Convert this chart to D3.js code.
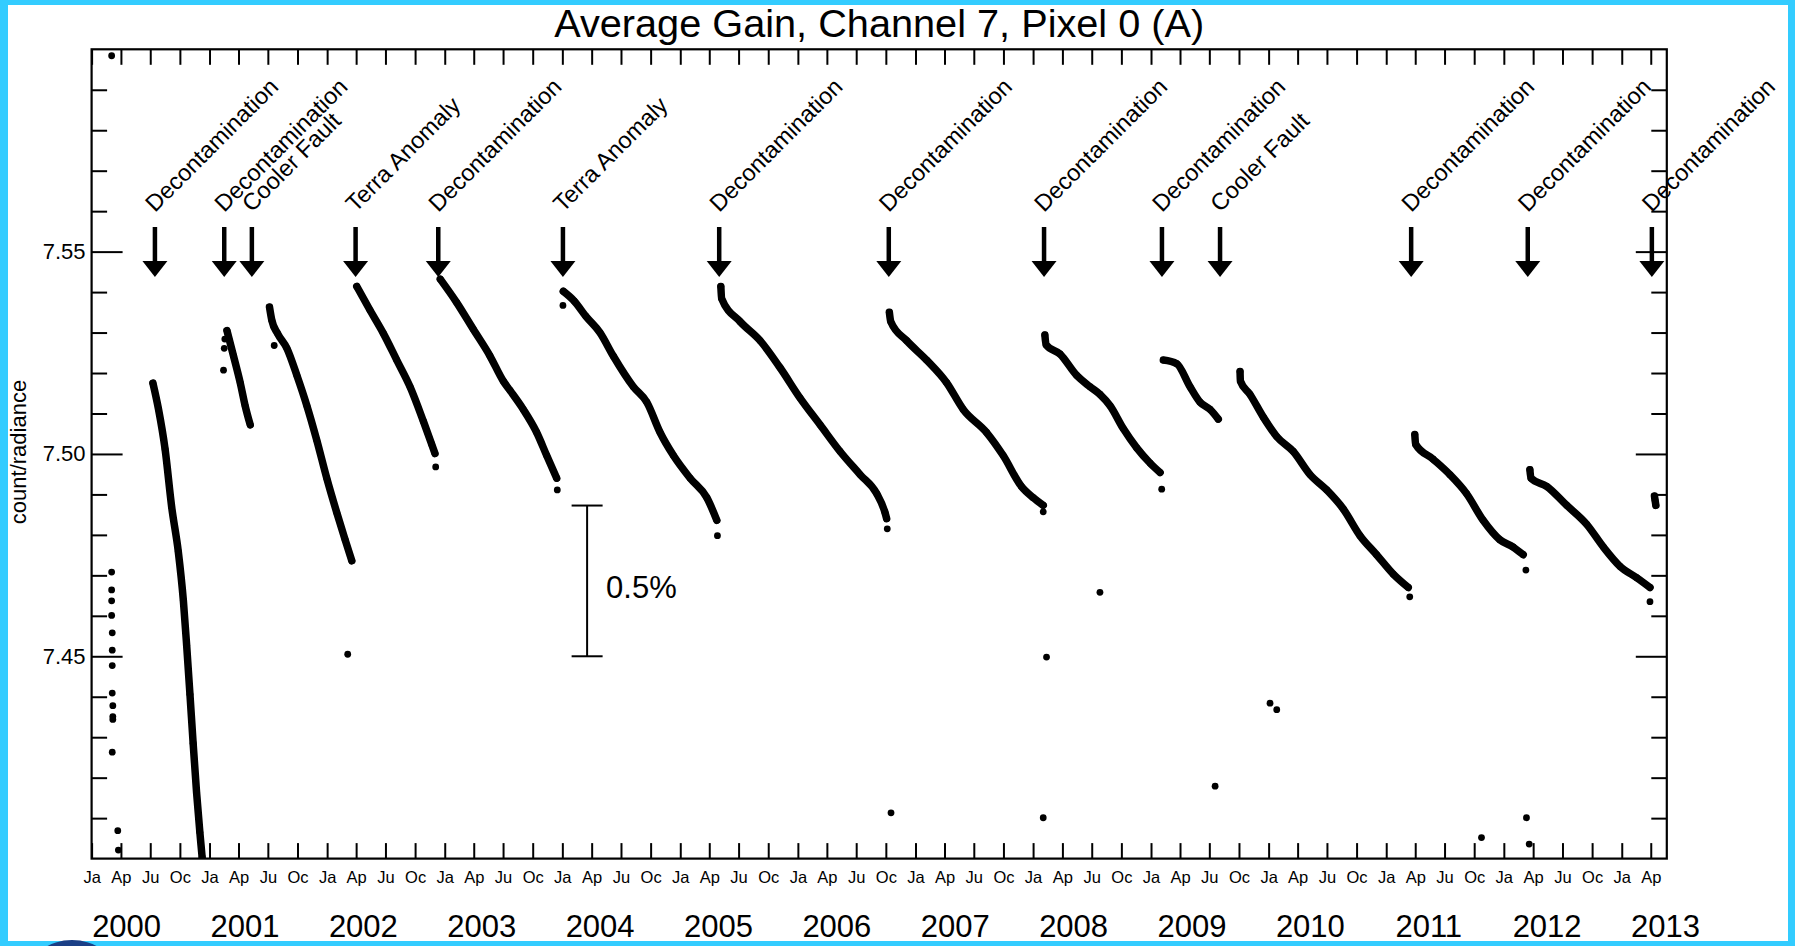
<!DOCTYPE html>
<html>
<head>
<meta charset="utf-8">
<script src="https://cdn.jsdelivr.net/npm/d3@7"></script>
<style>
  html, body { margin: 0; padding: 0; background: #33ccff; }
  svg { display: block; }
  text { font-family: "Liberation Sans", Arial, Helvetica, sans-serif; fill: #000; }
</style>
</head>
<body>
<script>
// values: [decimal year, count/radiance]
const launchPoints = [
  [2000.17, 7.5984],
  [2000.17, 7.4708], [2000.17, 7.4664], [2000.17, 7.4637], [2000.17, 7.4601],
  [2000.175, 7.4558], [2000.175, 7.4515], [2000.175, 7.4477], [2000.175, 7.4409],
  [2000.18, 7.4378], [2000.18, 7.4351], [2000.18, 7.4344], [2000.175, 7.4263],
  [2000.222, 7.4069], [2000.227, 7.4021]
];
const gain2000 = [
  [2000.520, 7.5175], [2000.567, 7.5111], [2000.623, 7.5012], [2000.679, 7.4869],
  [2000.735, 7.4759], [2000.778, 7.4638], [2000.806, 7.4527], [2000.834, 7.4406],
  [2000.861, 7.4285], [2000.890, 7.4164], [2000.918, 7.4065], [2000.937, 7.4004],
  [2000.950, 7.3960]
];
const gain2001a = [
  [2001.148, 7.5305], [2001.204, 7.5242], [2001.261, 7.5176], [2001.303, 7.5119],
  [2001.346, 7.5072]
];
const gain2001b = [
  [2001.510, 7.5363], [2001.530, 7.5330], [2001.578, 7.5298], [2001.658, 7.5261],
  [2001.743, 7.5194], [2001.828, 7.5119], [2001.912, 7.5034], [2001.997, 7.4940],
  [2002.082, 7.4855], [2002.153, 7.4788], [2002.210, 7.4736]
];
const gain2002 = [
  [2002.252, 7.5414], [2002.365, 7.5355], [2002.478, 7.5298], [2002.592, 7.5232],
  [2002.705, 7.5166], [2002.818, 7.5081], [2002.889, 7.5024], [2002.917, 7.5001]
];
const gain2003 = [
  [2002.962, 7.5432], [2003.102, 7.5374], [2003.243, 7.5308], [2003.385, 7.5242],
  [2003.498, 7.5180], [2003.555, 7.5157], [2003.668, 7.5110], [2003.782, 7.5053],
  [2003.867, 7.4996], [2003.952, 7.4940]
];
const gain2004 = [
  [2004.008, 7.5402], [2004.100, 7.5378], [2004.200, 7.5340], [2004.319, 7.5300],
  [2004.432, 7.5242], [2004.602, 7.5166], [2004.716, 7.5128], [2004.829, 7.5053],
  [2004.942, 7.4996], [2005.084, 7.4940], [2005.226, 7.4892], [2005.311, 7.4836]
];
const gain2005 = [
  [2005.345, 7.5414], [2005.352, 7.5384], [2005.509, 7.5327], [2005.679, 7.5280],
  [2005.849, 7.5213], [2006.019, 7.5138], [2006.189, 7.5072], [2006.359, 7.5006],
  [2006.529, 7.4949], [2006.670, 7.4902], [2006.741, 7.4855], [2006.755, 7.4840]
];
const gain2006 = [
  [2006.778, 7.5350], [2006.790, 7.5327], [2006.925, 7.5280], [2007.095, 7.5232],
  [2007.265, 7.5176], [2007.406, 7.5110], [2007.605, 7.5053], [2007.746, 7.4996],
  [2007.900, 7.4920], [2008.001, 7.4892], [2008.086, 7.4873]
];
const gain2008 = [
  [2008.100, 7.5294], [2008.110, 7.5270], [2008.228, 7.5247], [2008.370, 7.5194],
  [2008.483, 7.5166], [2008.568, 7.5147], [2008.653, 7.5119], [2008.766, 7.5062],
  [2008.879, 7.5015], [2008.993, 7.4977], [2009.077, 7.4954]
];
const gain2009a = [
  [2009.105, 7.5232], [2009.219, 7.5223], [2009.332, 7.5166], [2009.417, 7.5128],
  [2009.502, 7.5110], [2009.572, 7.5086]
];
const gain2009b = [
  [2009.757, 7.5204], [2009.760, 7.5180], [2009.842, 7.5147], [2009.955, 7.5091],
  [2010.069, 7.5043], [2010.210, 7.5006], [2010.352, 7.4949], [2010.494, 7.4911],
  [2010.635, 7.4864], [2010.777, 7.4798], [2010.918, 7.4751], [2011.060, 7.4703],
  [2011.187, 7.4670]
];
const gain2011 = [
  [2011.243, 7.5048], [2011.250, 7.5024], [2011.399, 7.4987], [2011.541, 7.4949],
  [2011.683, 7.4902], [2011.824, 7.4836], [2011.966, 7.4788], [2012.079, 7.4770],
  [2012.164, 7.4751]
];
const gain2012 = [
  [2012.221, 7.4961], [2012.230, 7.4940], [2012.363, 7.4920], [2012.533, 7.4873],
  [2012.703, 7.4826], [2012.844, 7.4770], [2012.986, 7.4722], [2013.127, 7.4694],
  [2013.240, 7.4670]
];
const gain2013 = [
  [2013.278, 7.4896], [2013.283, 7.4886], [2013.290, 7.4873]
];
// isolated points off the main trends
const strayPoints = [
  [2001.119, 7.5207], [2001.125, 7.5261], [2001.130, 7.5284], [2001.550, 7.5268],
  [2002.175, 7.4505], [2002.923, 7.4968], [2003.957, 7.4911], [2004.005, 7.5367],
  [2005.316, 7.4798], [2006.760, 7.4815], [2006.792, 7.4113], [2008.086, 7.4857],
  [2008.114, 7.4498], [2008.086, 7.4101], [2008.567, 7.4658], [2009.091, 7.4913],
  [2009.545, 7.4179], [2010.012, 7.4384], [2010.069, 7.4368], [2011.200, 7.4647],
  [2011.810, 7.4052], [2012.187, 7.4713], [2012.192, 7.4101], [2012.215, 7.4036],
  [2013.240, 7.4635]
];

const eventYears = [2000.537, 2001.125, 2001.360, 2002.242, 2002.945, 2004.005, 2005.331,
  2006.773, 2008.093, 2009.093, 2009.587, 2011.212, 2012.203, 2013.256];
const eventLabels = ['Decontamination', 'Decontamination', 'Cooler Fault', 'Terra Anomaly',
  'Decontamination', 'Terra Anomaly', 'Decontamination', 'Decontamination', 'Decontamination',
  'Decontamination', 'Cooler Fault', 'Decontamination', 'Decontamination', 'Decontamination'];

const yMajorTicks = [7.45, 7.50, 7.55];
const quarterNames = ['Ja', 'Ap', 'Ju', 'Oc'];
const yearLabels = d3.range(2000, 2014);

// 0.5% bar drawn at this date, rising from this level
const scaleBarYear = 2004.21;
const scaleBarBase = 7.45;
const scaleBarPct = 0.005;

const segments = [gain2000, gain2001a, gain2001b, gain2002, gain2003, gain2004, gain2005,
  gain2006, gain2008, gain2009a, gain2009b, gain2011, gain2012, gain2013];

const w = 1795;
const h = 946;
const margin = { top: 49.3, right: 128.2, bottom: 87.4, left: 91.6 };
const width = w - margin.left - margin.right;
const height = h - margin.top - margin.bottom;
const font = '"Liberation Sans", Arial, Helvetica, sans-serif';

// decimal year -> Date
function toDate(yr) {
  const y0 = Math.floor(yr);
  const a = Date.UTC(y0, 0, 1), b = Date.UTC(y0 + 1, 0, 1);
  return new Date(a + (yr - y0) * (b - a));
}

const x = d3.scaleUtc()
  .domain([toDate(2000), toDate(2013.383)])
  .range([0, width]);
const y = d3.scaleLinear()
  .domain([7.40, 7.60])
  .range([height, 0]);

const svg = d3.select('body').append('svg')
  .attr('width', w)
  .attr('height', h);

// white page inside the cyan border
svg.append('rect')
  .attr('x', 8).attr('y', 5)
  .attr('width', 1780).attr('height', 936)
  .attr('fill', '#fff');

// bit of a logo peeking in at the bottom left
svg.append('ellipse')
  .attr('cx', 72).attr('cy', 972)
  .attr('rx', 42).attr('ry', 32)
  .attr('fill', '#1b3f86');

svg.append('text')
  .attr('x', margin.left + width / 2)
  .attr('y', 37)
  .attr('text-anchor', 'middle')
  .attr('font-size', 39.7)
  .text('Average Gain, Channel 7, Pixel 0 (A)');

svg.append('text')
  .attr('transform', `translate(26, 452) rotate(-90)`)
  .attr('text-anchor', 'middle')
  .attr('font-size', 22)
  .text('count/radiance');

const g = svg.append('g')
  .attr('transform', `translate(${margin.left}, ${margin.top})`);

g.append('clipPath').attr('id', 'plot-clip')
  .append('rect').attr('width', width).attr('height', height);

// ---- axes, ticks pointing inward ----
const quarters = x.ticks(d3.utcMonth.every(3));
const minorY = d3.range(7.41, 7.6, 0.01).filter(v => !yMajorTicks.some(m => Math.abs(m - v) < 1e-6));

function tidy(sel) {
  sel.select('.domain').remove();
  sel.selectAll('.tick line').attr('stroke', '#000').attr('stroke-width', 2);
  sel.selectAll('text').attr('fill', '#000').attr('font-family', font);
}

g.append('g')
  .attr('transform', `translate(0, ${height})`)
  .call(d3.axisBottom(x).tickValues(quarters).tickSize(-15.5).tickPadding(12.5)
    .tickFormat(d => quarterNames[d.getUTCMonth() / 3]))
  .call(tidy)
  .call(s => s.selectAll('text').attr('font-size', 16.5));

g.append('g')
  .call(d3.axisTop(x).tickValues(quarters).tickSize(-15.5).tickFormat(''))
  .call(tidy);

g.append('g')
  .call(d3.axisLeft(y).tickValues(minorY).tickSize(-15.5).tickFormat(''))
  .call(tidy);
g.append('g')
  .call(d3.axisLeft(y).tickValues(yMajorTicks).tickSize(-31).tickPadding(6)
    .tickFormat(d3.format('.2f')))
  .call(tidy)
  .call(s => s.selectAll('text').attr('font-size', 22));

g.append('g')
  .attr('transform', `translate(${width}, 0)`)
  .call(d3.axisRight(y).tickValues(minorY).tickSize(-15.5).tickFormat(''))
  .call(tidy);
g.append('g')
  .attr('transform', `translate(${width}, 0)`)
  .call(d3.axisRight(y).tickValues(yMajorTicks).tickSize(-31).tickFormat(''))
  .call(tidy);

g.append('rect')
  .attr('width', width).attr('height', height)
  .attr('fill', 'none')
  .attr('stroke', '#000')
  .attr('stroke-width', 2.2);

// year row under the quarter labels
const yearPos = d3.scaleLinear()
  .domain([2000, 2013])
  .range([x(toDate(2000.297)), x(toDate(2013.372))]);

g.append('g')
  .selectAll('text')
  .data(yearLabels)
  .join('text')
    .attr('x', d => yearPos(d))
    .attr('y', 937.5 - margin.top)
    .attr('text-anchor', 'middle')
    .attr('font-size', 31)
    .text(d => d);

// ---- gain data ----
const px = d => x(toDate(d[0]));
const py = d => y(d[1]);
const line = d3.line().x(px).y(py).curve(d3.curveMonotoneX);

const plot = g.append('g').attr('clip-path', 'url(#plot-clip)');

plot.selectAll('.seg')
  .data(segments)
  .join('path')
    .attr('class', 'seg')
    .attr('d', line)
    .attr('fill', 'none')
    .attr('stroke', '#000')
    .attr('stroke-width', 7.5)
    .attr('stroke-linecap', 'round')
    .attr('stroke-linejoin', 'round');

plot.selectAll('.pt')
  .data(segments.flat().concat(launchPoints, strayPoints))
  .join('circle')
    .attr('class', 'pt')
    .attr('cx', px)
    .attr('cy', py)
    .attr('r', 3.4)
    .attr('fill', '#000');

// ---- 0.5% bar ----
const barX = x(toDate(scaleBarYear));
const barTop = y(scaleBarBase * (1 + scaleBarPct));
const barBot = y(scaleBarBase);
const bar = g.append('g').attr('stroke', '#000').attr('stroke-width', 2);
bar.append('line').attr('x1', barX).attr('x2', barX).attr('y1', barTop).attr('y2', barBot);
bar.append('line').attr('x1', barX - 15.5).attr('x2', barX + 15.5).attr('y1', barTop).attr('y2', barTop);
bar.append('line').attr('x1', barX - 15.5).attr('x2', barX + 15.5).attr('y1', barBot).attr('y2', barBot);
g.append('text')
  .attr('x', barX + 19)
  .attr('y', (barTop + barBot) / 2 + 17)
  .attr('font-size', 31)
  .text(d3.format('.1%')(scaleBarPct));

// ---- event arrows and labels ----
const events = svg.append('g')
  .selectAll('g')
  .data(eventYears.map((d, i) => ({ year: d, label: eventLabels[i] })))
  .join('g')
    .attr('transform', d => `translate(${margin.left + x(toDate(d.year))}, 0)`);

events.append('line')
  .attr('y1', 227).attr('y2', 266)
  .attr('stroke', '#000')
  .attr('stroke-width', 4.5);
events.append('path')
  .attr('d', 'M-12.5,261L12.5,261L0,277Z')
  .attr('fill', '#000');
events.append('text')
  .attr('transform', 'translate(0, 213) rotate(-45)')
  .attr('font-size', 23.5)
  .text(d => d.label);
</script>
</body>
</html>
